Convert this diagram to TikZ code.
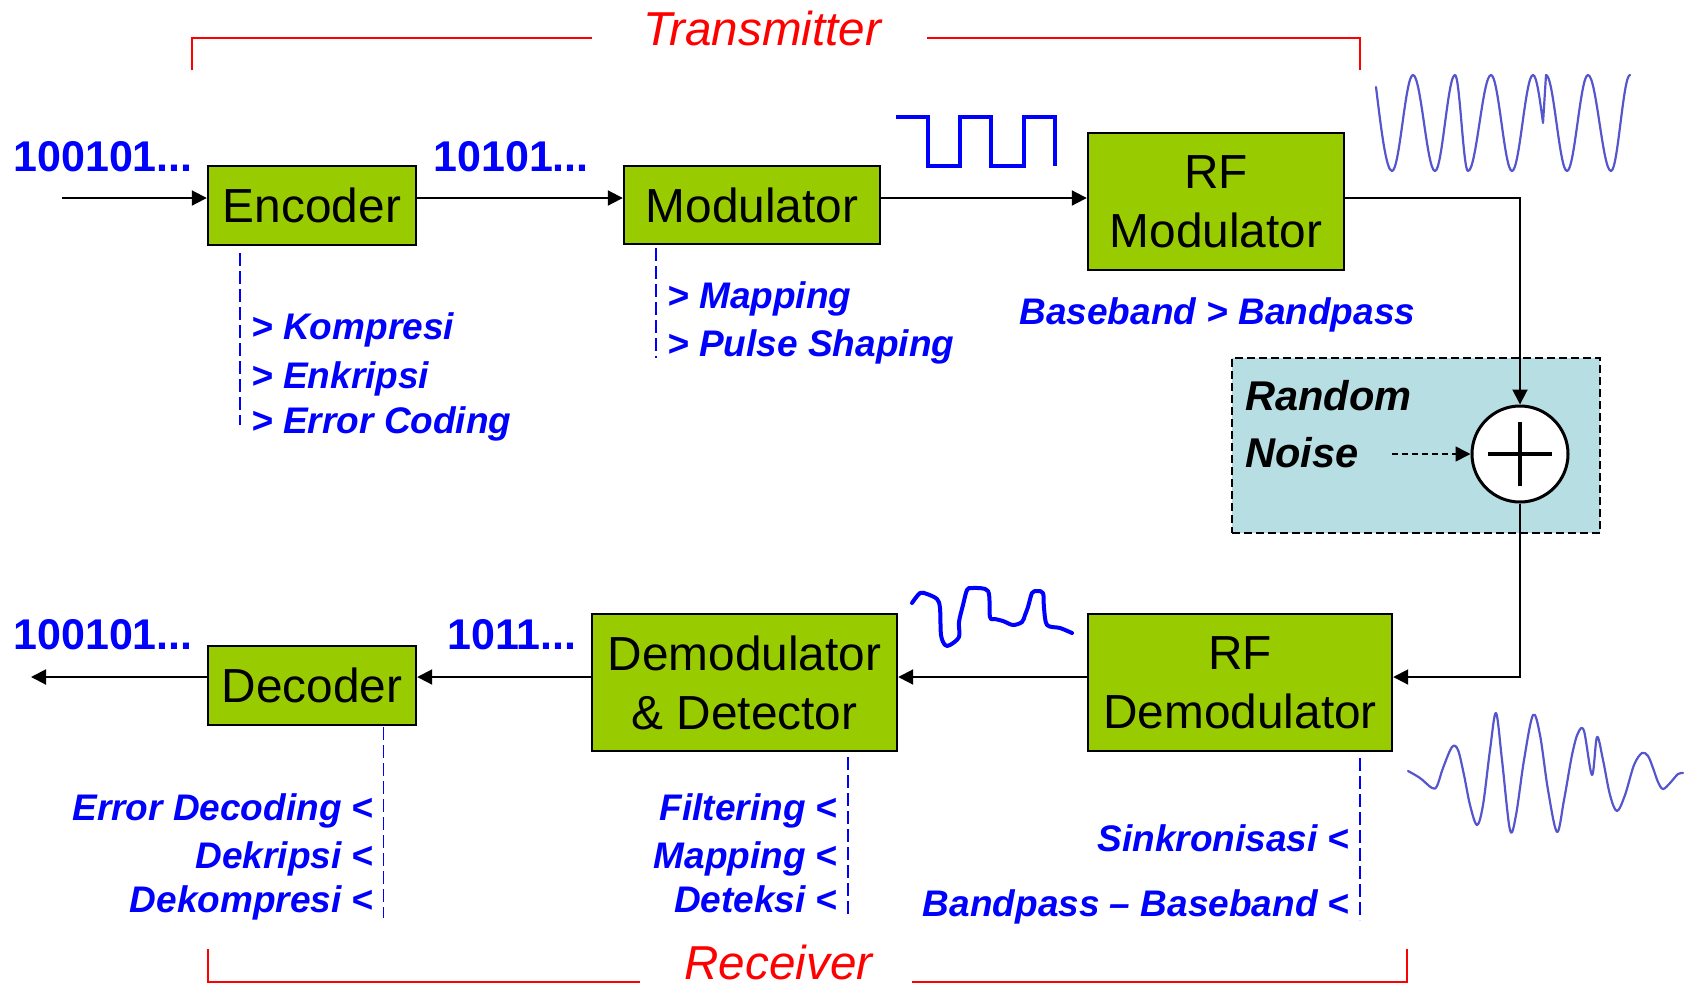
\documentclass[tikz,border=0pt]{standalone}
\usepackage{fontspec}
\setmainfont{Liberation Sans}
\usetikzlibrary{arrows.meta}
\definecolor{boxgreen}{RGB}{153,204,0}
\definecolor{noisebg}{RGB}{183,223,227}
\definecolor{txtblue}{RGB}{0,0,255}
\definecolor{wavecol}{RGB}{85,85,205}
\definecolor{brred}{RGB}{255,0,0}
\begin{document}
\begin{tikzpicture}[x=0.5pt,y=-0.5pt,
  blk/.style={draw=black,line width=1.2pt,fill=boxgreen,inner sep=0pt,align=center,font=\fontsize{23.9}{29.5}\selectfont},
  arr/.style={line width=1pt,-{Triangle[length=7.5pt,width=7.5pt]}},
  num/.style={text=txtblue,font=\fontsize{21.5}{24}\selectfont\bfseries,inner sep=0pt,anchor=base west},
  lbl/.style={text=txtblue,font=\fontsize{18.5}{22}\selectfont\bfseries\itshape,inner sep=0pt},
  lead/.style={draw=txtblue,line width=0.8pt,dash pattern=on 6.5pt off 2.5pt},
  brk/.style={draw=brred,line width=1pt},
  ttl/.style={text=brred,font=\fontsize{23.8}{28}\selectfont\itshape,inner sep=0pt,anchor=base},
  wave/.style={draw=wavecol,line width=1.1pt,line join=round,line cap=round},
  bwave/.style={draw=txtblue,line width=2pt,line join=round,line cap=round},
  noisetxt/.style={font=\fontsize{20.8}{24}\selectfont\bfseries\itshape,inner sep=0pt,anchor=base west},
]
\useasboundingbox (0,0) rectangle (1688,992);

% Transmitter / Receiver brackets
\draw[brk] (192,70) -- (192,38) -- (592,38);
\draw[brk] (927,38) -- (1360,38) -- (1360,70);
\node[ttl] (tx) at (762.5,45) {Transmitter};
\draw[brk] (208,949) -- (208,982) -- (640,982);
\draw[brk] (912,982) -- (1407,982) -- (1407,949);
\node[ttl] (rx) at (778.5,979) {Receiver};

% noise box
\node[draw=black,line width=1pt,dash pattern=on 4pt off 2pt,fill=noisebg,minimum width=184pt,minimum height=87.5pt,inner sep=0pt] (nbox) at (1416,445.5) {};
\node[noisetxt] (rnd) at (1245,410) {Random};
\node[noisetxt] (nse) at (1245,467) {Noise};

% blocks
\node[blk,minimum width=104pt,minimum height=39.5pt] (enc) at (312,205.5) {Encoder};
\node[blk,minimum width=128pt,minimum height=39pt] (mod) at (752,205) {Modulator};
\node[blk,minimum width=128pt,minimum height=68.5pt] (rfmod) at (1216,201.5) {RF\\Modulator};
\node[blk,minimum width=152pt,minimum height=68.5pt] (rfdem) at (1240,682.5) {RF\\Demodulator};
\node[blk,minimum width=152.5pt,minimum height=68.5pt] (dem) at (744.5,682.5) {Demodulator\\\& Detector};
\node[blk,minimum width=104pt,minimum height=39.5pt] (dec) at (312,685.5) {Decoder};
\node[circle,draw=black,line width=1.5pt,fill=white,minimum size=48pt,inner sep=0pt] (sum) at (1520,454) {};
\draw[line width=1.7pt] (1488,454) -- (1552,454) (1520,422) -- (1520,486);

% connectors
\coordinate (in) at (62,198);
\coordinate (out) at (31,677);
\coordinate (nz) at (1392,454);
\draw[arr] (in) -- (in -| enc.west);
\draw[arr] (enc.east |- in) -- (mod.west |- in);
\draw[arr] (mod.east |- in) -- (rfmod.west |- in);
\draw[arr] (rfmod.east |- in) -| (sum.north);
\draw[arr] (sum.south) |- (rfdem.east |- out);
\draw[arr] (rfdem.west |- out) -- (dem.east |- out);
\draw[arr] (dem.west |- out) -- (dec.east |- out);
\draw[arr] (dec.west |- out) -- (out);
\draw[line width=0.8pt,dash pattern=on 3pt off 2pt,-{Triangle[length=7.5pt,width=7.5pt]}] (nz) -- (sum.west);

% bit strings
\node[num] (b1) at (13,171) {100101...};
\node[num] (b2) at (433,171) {10101...};
\node[num] (b3) at (13,649) {100101...};
\node[num] (b4) at (447,649) {1011...};

% leader lines
\draw[lead] (240,253) -- (240,425);
\draw[lead] (656,248) -- (656,358);
\draw[lead] (383.5,727) -- (383.5,918);
\draw[lead] (848,757) -- (848,918);
\draw[lead] (1360,758) -- (1360,920);

% labels
\node[lbl,anchor=base west] (l1) at (251,339) {> Kompresi};
\node[lbl,anchor=base west] (l2) at (251,388) {> Enkripsi};
\node[lbl,anchor=base west] (l3) at (251,433) {> Error Coding};
\node[lbl,anchor=base west] (l4) at (667,308) {> Mapping};
\node[lbl,anchor=base west] (l5) at (667,356) {> Pulse Shaping};
\node[lbl,anchor=base west] (l6) at (1019,324) {Baseband > Bandpass};
\node[lbl,anchor=base east] (l7) at (374,820) {Error Decoding <};
\node[lbl,anchor=base east] (l8) at (374,868) {Dekripsi <};
\node[lbl,anchor=base east] (l9) at (374,912) {Dekompresi <};
\node[lbl,anchor=base east] (l10) at (838,820) {Filtering <};
\node[lbl,anchor=base east] (l11) at (838,868) {Mapping <};
\node[lbl,anchor=base east] (l12) at (838,912) {Deteksi <};
\node[lbl,anchor=base east] (l13) at (1350,851) {Sinkronisasi <};
\node[lbl,anchor=base east] (l14) at (1350,916) {Bandpass – Baseband <};

% square wave
\draw[draw=txtblue,line width=1.8pt] (896,117) -- (928,117) -- (928,166) -- (960,166) -- (960,117) -- (991,117) -- (991,166) -- (1024,166) -- (1024,117) -- (1055,117) -- (1055,166);

% top-right RF wave
\draw[wave] (1376,87) sin (1392,171) cos (1402.5,123) sin (1413,75) cos (1424,123) sin (1435,171) cos (1445,123) sin (1455,75) cos (1461.5,123) sin (1468,171) cos (1479.5,123) sin (1491,75) cos (1501.5,123) sin (1512,171) cos (1522.5,123) sin (1533,75) cos (1543,123) -- (1546,75) cos (1556.5,123) sin (1567,171) cos (1577.5,123) sin (1588,75) cos (1599.5,123) sin (1611,171) cos (1620.5,123) sin (1630,75);

% received noisy RF wave
\draw[wave] plot[smooth,tension=0.55] coordinates {(1408,771) (1420,778) (1432,788) (1437,786) (1443,768) (1452,747) (1458,750) (1464,775) (1470,805) (1477,825) (1483,805) (1490,750) (1496,713) (1502,760) (1510,830) (1516,815) (1524,760) (1533,715) (1540,735) (1548,790) (1557,832) (1564,800) (1572,755) (1578,733) (1584,731) (1592,775) (1597,737) (1603,760) (1610,795) (1617,811) (1625,795) (1634,765) (1642,753) (1648,756) (1653,768) (1658,782) (1663,789) (1670,783) (1678,774) (1683,773)};

% distorted baseband wave
\draw[bwave] plot[smooth,tension=0.5] coordinates {(912,603) (920,593) (927,594) (937,599) (940,608) (941,635) (945,645) (950,645) (959,637) (959,622) (963,605) (967,590) (972,588) (988,591) (990,617) (995,619) (1003,621) (1013,625) (1022,622) (1025,615) (1028,607) (1032,593) (1037,591) (1043,593) (1044,608) (1047,625) (1060,628) (1072,633)};
\end{tikzpicture}
\end{document}
